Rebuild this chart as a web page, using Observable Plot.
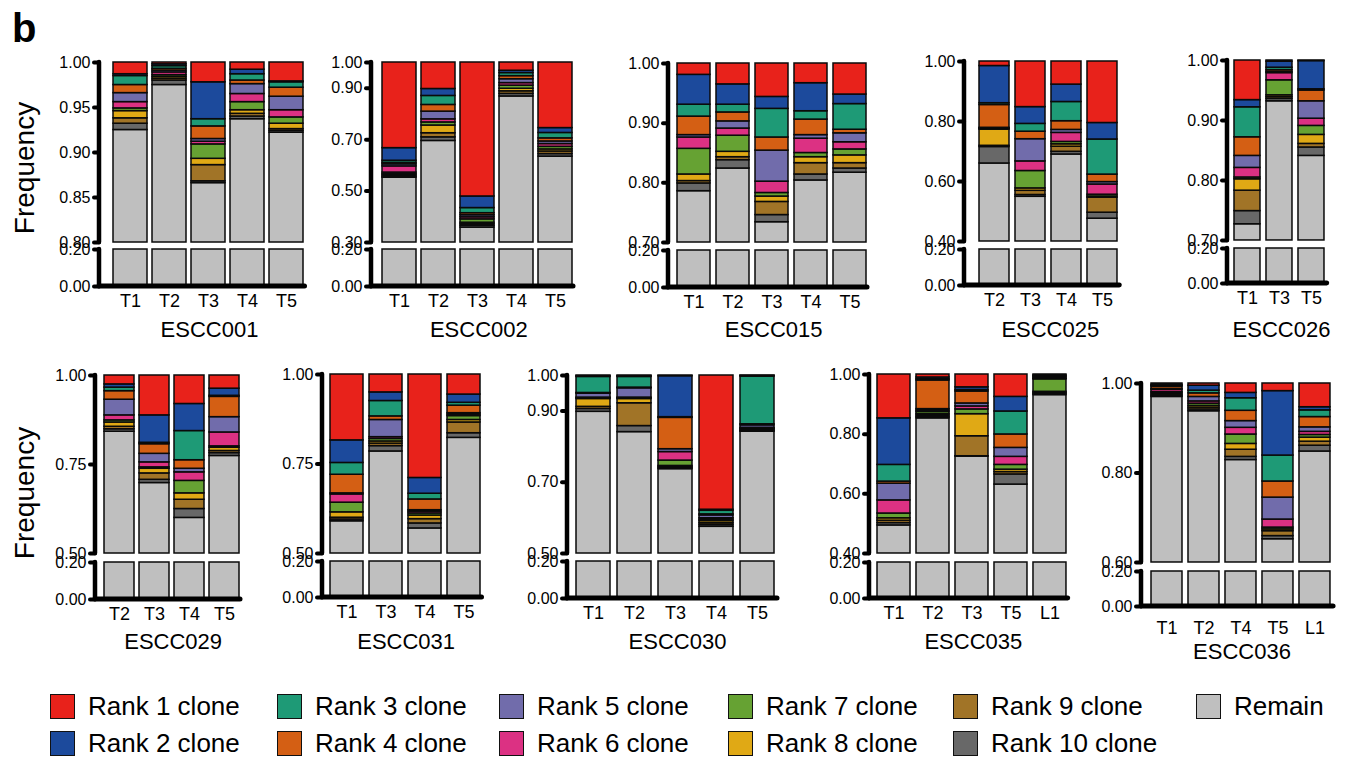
<!DOCTYPE html>
<html><head><meta charset="utf-8">
<script src="https://cdn.jsdelivr.net/npm/d3@7"></script>
<script src="https://cdn.jsdelivr.net/npm/@observablehq/plot@0.6"></script>
<style>
body{margin:0;background:#fff;font-family:"Liberation Sans",Arial,sans-serif;}
#root{position:relative;width:1346px;height:758px;overflow:hidden;background:#fff;}
.abs{position:absolute;white-space:nowrap;color:#000;}
</style></head><body><div id="root"></div>
<script>
const FONT = '"Liberation Sans", Arial, sans-serif';
const RANKS = ["Rank 1 clone","Rank 2 clone","Rank 3 clone","Rank 4 clone","Rank 5 clone","Rank 6 clone","Rank 7 clone","Rank 8 clone","Rank 9 clone","Rank 10 clone","Remain"];
const COLORS = ["#e8221b","#1c4a9c","#1e9a76","#d45f14","#716cab","#dc3183","#66a233","#e0a915","#a17427","#686868","#bfbfbf"];

// values per sample: [rank1 .. rank10] frequencies (remain = rest)
const ESCC001_samples = ["T1","T2","T3","T4","T5"];
const ESCC001_ticks = [0.80,0.85,0.90,0.95,1.00];
const ESCC001_values = [
 [0.013,0.002,0.010,0.009,0.010,0.007,0.003,0.008,0.006,0.007],
 [0.002,0.002,0.003,0.002,0.002,0.003,0.002,0.002,0.002,0.005],
 [0.022,0.041,0.008,0.014,0.003,0.003,0.016,0.007,0.018,0.002],
 [0.008,0.005,0.007,0.004,0.011,0.009,0.009,0.004,0.003,0.003],
 [0.021,0.001,0.006,0.010,0.015,0.008,0.007,0.006,0.002,0.002]];

const ESCC002_samples = ["T1","T2","T3","T4","T5"];
const ESCC002_ticks = [0.30,0.50,0.70,0.90,1.00];
const ESCC002_values = [
 [0.333,0.049,0.008,0.006,0.008,0.024,0.006,0.005,0.005,0.004],
 [0.103,0.027,0.035,0.026,0.030,0.012,0.012,0.030,0.016,0.014],
 [0.521,0.045,0.020,0.008,0.008,0.008,0.013,0.006,0.006,0.007],
 [0.032,0.009,0.012,0.012,0.015,0.010,0.012,0.010,0.010,0.010],
 [0.255,0.019,0.021,0.012,0.010,0.011,0.010,0.008,0.010,0.010]];

const ESCC015_samples = ["T1","T2","T3","T4","T5"];
const ESCC015_ticks = [0.70,0.80,0.90,1.00];
const ESCC015_values = [
 [0.019,0.050,0.020,0.031,0.004,0.019,0.043,0.011,0.004,0.013],
 [0.035,0.034,0.013,0.015,0.012,0.012,0.027,0.009,0.005,0.014],
 [0.056,0.020,0.048,0.022,0.052,0.019,0.006,0.009,0.022,0.012],
 [0.033,0.047,0.014,0.026,0.006,0.024,0.007,0.010,0.019,0.010],
 [0.052,0.016,0.043,0.006,0.015,0.012,0.010,0.013,0.009,0.007]];

const ESCC025_samples = ["T2","T3","T4","T5"];
const ESCC025_ticks = [0.40,0.60,0.80,1.00];
const ESCC025_values = [
 [0.015,0.124,0.006,0.076,0.002,0.002,0.002,0.054,0.004,0.055],
 [0.152,0.056,0.026,0.025,0.074,0.032,0.058,0.008,0.014,0.006],
 [0.077,0.058,0.064,0.029,0.010,0.030,0.008,0.008,0.017,0.009],
 [0.205,0.055,0.117,0.025,0.008,0.034,0.006,0.004,0.050,0.020]];

const ESCC026_samples = ["T1","T3","T5"];
const ESCC026_ticks = [0.70,0.80,0.90,1.00];
const ESCC026_values = [
 [0.066,0.012,0.050,0.031,0.020,0.016,0.003,0.019,0.034,0.022],
 [0.002,0.010,0.004,0.003,0.002,0.012,0.025,0.003,0.003,0.004],
 [0.001,0.047,0.002,0.018,0.029,0.012,0.015,0.015,0.006,0.014]];

const ESCC029_samples = ["T2","T3","T4","T5"];
const ESCC029_ticks = [0.50,0.75,1.00];
const ESCC029_values = [
 [0.025,0.009,0.010,0.024,0.044,0.014,0.006,0.012,0.007,0.007],
 [0.112,0.077,0.004,0.027,0.024,0.014,0.004,0.013,0.018,0.009],
 [0.080,0.076,0.082,0.024,0.010,0.024,0.035,0.018,0.026,0.025],
 [0.037,0.020,0.003,0.057,0.043,0.039,0.004,0.009,0.006,0.008]];

const ESCC031_samples = ["T1","T3","T4","T5"];
const ESCC031_ticks = [0.50,0.75,1.00];
const ESCC031_values = [
 [0.184,0.063,0.033,0.052,0.003,0.023,0.027,0.015,0.005,0.005],
 [0.050,0.024,0.043,0.010,0.048,0.005,0.007,0.006,0.007,0.015],
 [0.289,0.044,0.016,0.030,0.004,0.005,0.006,0.010,0.012,0.014],
 [0.056,0.023,0.008,0.021,0.004,0.004,0.011,0.007,0.030,0.013]];

const ESCC030_samples = ["T1","T2","T3","T4","T5"];
const ESCC030_ticks = [0.50,0.70,0.90,1.00];
const ESCC030_values = [
 [0.002,0.002,0.045,0.002,0.011,0.002,0.002,0.022,0.006,0.008],
 [0.002,0.002,0.030,0.002,0.026,0.002,0.002,0.012,0.064,0.017],
 [0.002,0.115,0.002,0.088,0.008,0.024,0.015,0.003,0.003,0.003],
 [0.377,0.003,0.010,0.003,0.008,0.004,0.004,0.006,0.005,0.005],
 [0.001,0.002,0.134,0.003,0.007,0.002,0.002,0.003,0.002,0.002]];

const ESCC035_samples = ["T1","T2","T3","T5","L1"];
const ESCC035_ticks = [0.40,0.60,0.80,1.00];
const ESCC035_values = [
 [0.147,0.156,0.056,0.007,0.056,0.044,0.016,0.008,0.008,0.008],
 [0.010,0.006,0.004,0.096,0.005,0.004,0.007,0.005,0.005,0.005],
 [0.043,0.009,0.005,0.040,0.010,0.010,0.016,0.074,0.067,0.001],
 [0.075,0.049,0.077,0.045,0.030,0.027,0.016,0.008,0.008,0.034],
 [0.003,0.003,0.003,0.004,0.002,0.001,0.042,0.004,0.003,0.004]];

const ESCC036_samples = ["T1","T2","T4","T5","L1"];
const ESCC036_ticks = [0.60,0.80,1.00];
const ESCC036_values = [
 [0.003,0.002,0.002,0.005,0.002,0.005,0.003,0.003,0.003,0.002],
 [0.005,0.011,0.006,0.008,0.010,0.005,0.005,0.004,0.004,0.004],
 [0.021,0.012,0.028,0.023,0.015,0.015,0.021,0.013,0.016,0.007],
 [0.017,0.144,0.058,0.036,0.049,0.018,0.004,0.004,0.011,0.007],
 [0.053,0.007,0.015,0.023,0.010,0.007,0.006,0.009,0.009,0.013]];

const panels = [
 {name:"ESCC001", samples:ESCC001_samples, values:ESCC001_values, ticks:ESCC001_ticks},
 {name:"ESCC002", samples:ESCC002_samples, values:ESCC002_values, ticks:ESCC002_ticks},
 {name:"ESCC015", samples:ESCC015_samples, values:ESCC015_values, ticks:ESCC015_ticks},
 {name:"ESCC025", samples:ESCC025_samples, values:ESCC025_values, ticks:ESCC025_ticks},
 {name:"ESCC026", samples:ESCC026_samples, values:ESCC026_values, ticks:ESCC026_ticks},
 {name:"ESCC029", samples:ESCC029_samples, values:ESCC029_values, ticks:ESCC029_ticks},
 {name:"ESCC031", samples:ESCC031_samples, values:ESCC031_values, ticks:ESCC031_ticks},
 {name:"ESCC030", samples:ESCC030_samples, values:ESCC030_values, ticks:ESCC030_ticks},
 {name:"ESCC035", samples:ESCC035_samples, values:ESCC035_values, ticks:ESCC035_ticks},
 {name:"ESCC036", samples:ESCC036_samples, values:ESCC036_values, ticks:ESCC036_ticks}
];

// layout (pixels): axis x, first bar left, last bar right, gap, section y positions
const layouts = [
 {ax:98.5, L:112, R:303, gap:5, top:61.5, topB:241.5, botT:249, zero:285.5, tickPad:8, titleY:330},
 {ax:371, L:381.7, R:572, gap:5.5, top:61.5, topB:241.5, botT:249, zero:285.5, tickPad:8, titleY:330},
 {ax:668, L:677.3, R:866, gap:6.5, top:62.5, topB:241.5, botT:250, zero:286.5, tickPad:8, titleY:330},
 {ax:964, L:978.3, R:1118.3, gap:6.5, top:61, topB:240.5, botT:249, zero:284.5, tickPad:8, titleY:330},
 {ax:1227, L:1233.3, R:1325.7, gap:6, top:60, topB:239.5, botT:248, zero:283, tickPad:8, titleY:330},
 {ax:95, L:103.3, R:239, gap:5.5, top:375, topB:553.3, botT:561.5, zero:598, tickPad:8, titleY:642},
 {ax:321.5, L:328.3, R:480, gap:6.5, top:374, topB:552.7, botT:561, zero:597, tickPad:8, titleY:642},
 {ax:567, L:575, R:776, gap:7, top:375, topB:552.7, botT:561, zero:598, tickPad:8, titleY:642},
 {ax:869, L:876, R:1066.7, gap:6.5, top:374.3, topB:553.3, botT:562, zero:598, tickPad:8, titleY:642},
 {ax:1140.5, L:1148.3, R:1331.7, gap:6, top:383.3, topB:562.3, botT:570.7, zero:606, tickPad:15, titleY:652}
];

const root = document.getElementById("root");
const fmt = d3.format(".2f");
const baseStyle = {overflow:"visible", background:"transparent", fontFamily:FONT, color:"#000"};

const vAxis = (index, scales, values, dims) =>
  d3.create("svg:line").attr("x1", dims.marginLeft).attr("x2", dims.marginLeft)
    .attr("y1", dims.marginTop).attr("y2", dims.height - dims.marginBottom)
    .attr("stroke", "#000").attr("stroke-width", 4.5).attr("stroke-linecap", "round").node();
const hAxis = (index, scales, values, dims) =>
  d3.create("svg:line").attr("x1", dims.marginLeft).attr("x2", dims.width - dims.marginRight)
    .attr("y1", dims.height - dims.marginBottom).attr("y2", dims.height - dims.marginBottom)
    .attr("stroke", "#000").attr("stroke-width", 5).attr("stroke-linecap", "round").node();

function place(el, left, top) {
  el.style.position = "absolute";
  el.style.left = left + "px";
  el.style.top = top + "px";
  root.appendChild(el);
}

panels.forEach((p, k) => {
  const g = layouts[k];
  const lo = p.ticks[0];
  const n = p.samples.length;
  const step = (g.R - g.L + g.gap) / n;
  const pad = g.gap / step;
  const mL = 50;
  const svgLeft = g.ax - mL;
  const W = (g.R + 4) - svgLeft;
  const xr = [g.L - g.gap / 2 - svgLeft, g.R + g.gap / 2 - svgLeft];

  const segs = [];
  p.samples.forEach((s, i) => {
    const v = p.values[i];
    const remain = 1 - d3.sum(v);
    segs.push({sample: s, rank: "Remain", y1: 0, y2: remain});
    let acc = remain;
    for (let r = 9; r >= 0; r--) {
      segs.push({sample: s, rank: RANKS[r], y1: acc, y2: acc + v[r]});
      acc += v[r];
    }
  });
  const topSegs = segs.filter(d => d.y2 > lo).map(d => ({...d, y1: Math.max(d.y1, lo)}));
  const botSegs = segs.filter(d => d.rank === "Remain").map(d => ({...d, y2: Math.min(d.y2, 0.2)}));

  const barOpts = {x: "sample", y1: "y1", y2: "y2", fill: "rank", stroke: "#0a0a0a", strokeWidth: 1.5};
  const xScale = {domain: p.samples, range: xr, paddingInner: pad, paddingOuter: pad / 2};
  const color = {domain: RANKS, range: COLORS};

  const mT = 10, mB = 6;
  const Ht = Math.round(g.topB - g.top) + mT + mB;
  const topPlot = Plot.plot({
    width: W, height: Ht, marginLeft: mL, marginRight: 4, marginTop: mT, marginBottom: mB,
    style: baseStyle,
    x: {...xScale, axis: null},
    y: {domain: [lo, 1], label: null},
    color,
    marks: [
      Plot.barY(topSegs, barOpts),
      Plot.axisY({ticks: p.ticks, tickFormat: fmt, tickSize: 5, tickPadding: 4, fontSize: 16, strokeWidth: 4, strokeLinecap: "round", label: null}),
      vAxis
    ]
  });
  place(topPlot, svgLeft, g.top - mT);

  const bT = 6, bB = 45;
  const Hb = Math.round(g.zero - g.botT) + bT + bB;
  const botPlot = Plot.plot({
    width: W, height: Hb, marginLeft: mL, marginRight: 3, marginTop: bT, marginBottom: bB,
    style: baseStyle,
    x: {...xScale, label: null},
    y: {domain: [0, 0.2], label: null},
    color,
    marks: [
      Plot.barY(botSegs, barOpts),
      Plot.axisY({ticks: [0, 0.2], tickFormat: fmt, tickSize: 5, tickPadding: 4, fontSize: 16, strokeWidth: 4, strokeLinecap: "round", label: null}),
      Plot.axisX({tickSize: 0, tickPadding: g.tickPad, fontSize: 18, label: null}),
      vAxis,
      hAxis
    ]
  });
  place(botPlot, svgLeft, g.botT - bT);

  const t = document.createElement("div");
  t.className = "abs";
  t.textContent = p.name;
  t.style.fontSize = "22px";
  t.style.lineHeight = "24px";
  t.style.left = ((g.L + g.R) / 2 + 2) + "px";
  t.style.top = (g.titleY - 12) + "px";
  t.style.transform = "translateX(-50%)";
  root.appendChild(t);
});

// Frequency labels and panel letter
[[25, 168], [25, 493]].forEach(([cx, cy]) => {
  const f = document.createElement("div");
  f.className = "abs";
  f.textContent = "Frequency";
  f.style.fontSize = "28px";
  f.style.lineHeight = "30px";
  f.style.left = cx + "px";
  f.style.top = cy + "px";
  f.style.transform = "translate(-50%,-50%) rotate(-90deg)";
  root.appendChild(f);
});
const b = document.createElement("div");
b.className = "abs";
b.textContent = "b";
b.style.fontSize = "40px";
b.style.fontWeight = "bold";
b.style.lineHeight = "40px";
b.style.left = "12px";
b.style.top = "8px";
root.appendChild(b);

// legend
const legendCols = [50, 277, 499, 728, 953, 1196];
const legendRows = [706, 743];
const legendOrder = [[0,2,4,6,8,10],[1,3,5,7,9]];
legendOrder.forEach((row, ri) => {
  row.forEach((idx, ci) => {
    const sw = document.createElement("div");
    sw.className = "abs";
    sw.style.left = legendCols[ci] + "px";
    sw.style.top = (legendRows[ri] - 12.5) + "px";
    sw.style.width = "25px";
    sw.style.height = "25px";
    sw.style.boxSizing = "border-box";
    sw.style.border = "1.5px solid #111";
    sw.style.background = COLORS[idx];
    root.appendChild(sw);
    const tx = document.createElement("div");
    tx.className = "abs";
    tx.textContent = RANKS[idx];
    tx.style.fontSize = "26px";
    tx.style.lineHeight = "26px";
    tx.style.left = (legendCols[ci] + 38) + "px";
    tx.style.top = (legendRows[ri] - 13) + "px";
    root.appendChild(tx);
  });
});
</script></body></html>
